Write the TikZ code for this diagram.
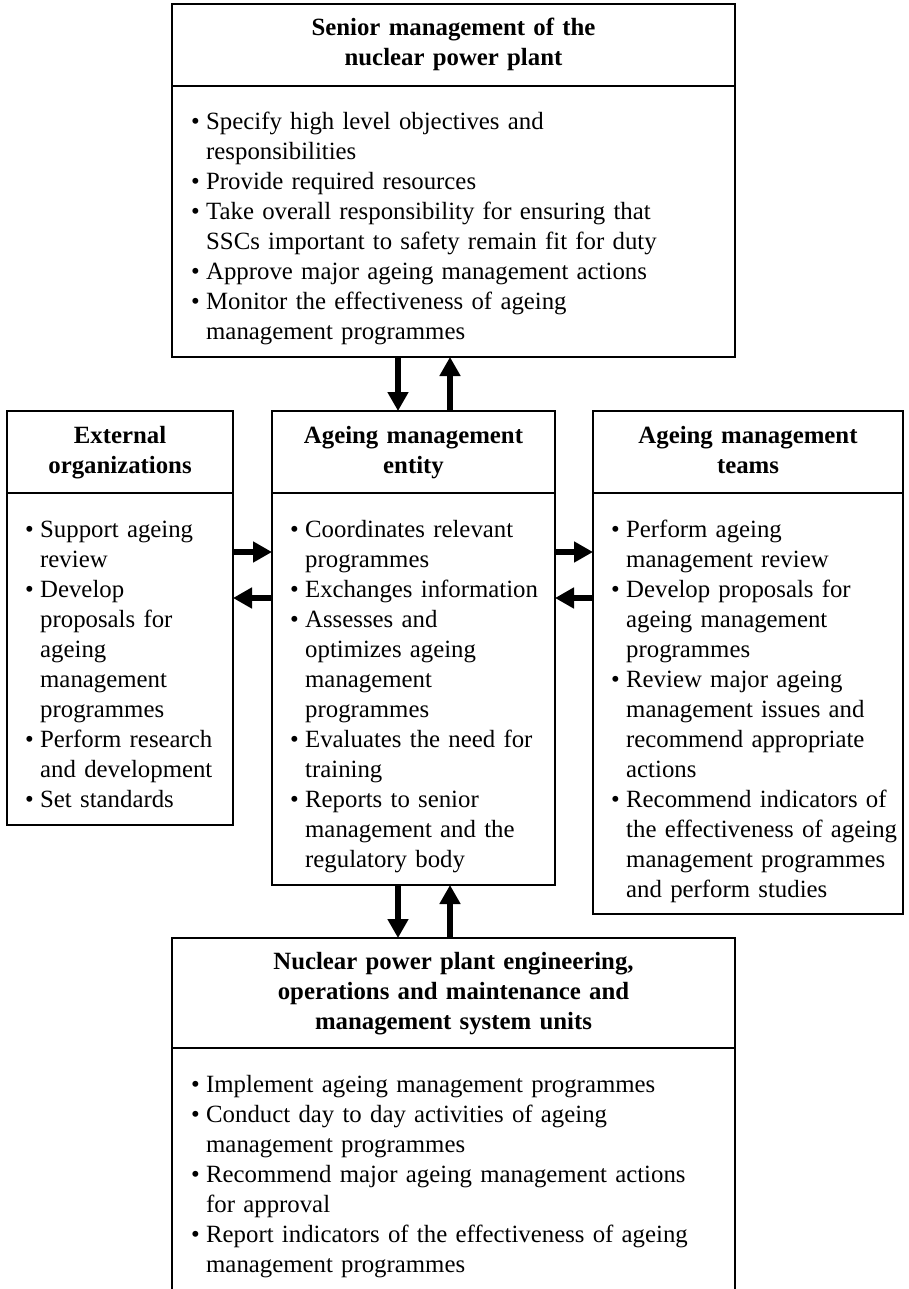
\documentclass[tikz,border=0pt]{standalone}
\usepackage{fontspec}
\setmainfont{Liberation Serif}
\usetikzlibrary{arrows.meta}
\newcommand{\BL}{\makebox[15pt][l]{\textbullet}}
\newcommand{\CL}{\hspace*{15pt}}
\begin{document}
\begin{tikzpicture}[x=1pt,y=-1pt,
  box/.style={draw, line width=1.1pt, inner sep=0pt, outer sep=0pt, anchor=north west},
  body/.style={inner sep=0pt, anchor=base west, align=left, font=\fontsize{24.8}{30}\selectfont},
  title/.style={inner sep=0pt, anchor=base, align=center, font=\bfseries\fontsize{24.8}{30}\selectfont},
  bigarrow/.style={line width=6.5pt, -{Triangle[width=20pt,length=19pt]}},
  divider/.style={line width=1.1pt}]
\useasboundingbox (0,0) rectangle (909,1289);

% boxes
\node[box, minimum width=563pt, minimum height=353pt] (tbox) at (172,4) {};
\node[box, minimum width=226pt, minimum height=414pt] (lbox) at (7,411) {};
\node[box, minimum width=283pt, minimum height=474pt] (mbox) at (272,411) {};
\node[box, minimum width=310pt, minimum height=503pt] (rbox) at (593,411) {};
\node[box, minimum width=563pt, minimum height=353pt] (bbox) at (172,938) {};

% dividers
\coordinate (dt) at (0,86);
\coordinate (dm) at (0,493);
\coordinate (db) at (0,1048);
\draw[divider] (tbox.west |- dt) -- (tbox.east |- dt);
\draw[divider] (lbox.west |- dm) -- (lbox.east |- dm);
\draw[divider] (mbox.west |- dm) -- (mbox.east |- dm);
\draw[divider] (rbox.west |- dm) -- (rbox.east |- dm);
\draw[divider] (bbox.west |- db) -- (bbox.east |- db);

% titles
\node[title, text width=550pt] (ttitle) at (453.5,36) {Senior management of the\\nuclear power plant};
\node[title, text width=220pt] (ltitle) at (120,443) {External\\organizations};
\node[title, text width=275pt] (mtitle) at (413.5,443) {Ageing management\\entity};
\node[title, text width=300pt] (rtitle) at (748,443) {Ageing management\\teams};
\node[title, text width=550pt] (btitle) at (453.5,969) {Nuclear power plant engineering,\\operations and maintenance and\\management system units};

% bodies
\node[body, text width=540pt] (tbody) at (191,130) {%
\BL Specify high level objectives and\\
\CL responsibilities\\
\BL Provide required resources\\
\BL Take overall responsibility for ensuring that\\
\CL SSCs important to safety remain fit for duty\\
\BL Approve major ageing management actions\\
\BL Monitor the effectiveness of ageing\\
\CL management programmes};

\node[body, text width=215pt] (lbody) at (25,537) {%
\BL Support ageing\\
\CL review\\
\BL Develop\\
\CL proposals for\\
\CL ageing\\
\CL management\\
\CL programmes\\
\BL Perform research\\
\CL and development\\
\BL Set standards};

\node[body, text width=270pt] (mbody) at (290,537) {%
\BL Coordinates relevant\\
\CL programmes\\
\BL Exchanges information\\
\BL Assesses and\\
\CL optimizes ageing\\
\CL management\\
\CL programmes\\
\BL Evaluates the need for\\
\CL training\\
\BL Reports to senior\\
\CL management and the\\
\CL regulatory body};

\node[body, text width=300pt] (rbody) at (611,537) {%
\BL Perform ageing\\
\CL management review\\
\BL Develop proposals for\\
\CL ageing management\\
\CL programmes\\
\BL Review major ageing\\
\CL management issues and\\
\CL recommend appropriate\\
\CL actions\\
\BL Recommend indicators of\\
\CL the effectiveness of ageing\\
\CL management programmes\\
\CL and perform studies};

\node[body, text width=540pt] (bbody) at (191,1092) {%
\BL Implement ageing management programmes\\
\BL Conduct day to day activities of ageing\\
\CL management programmes\\
\BL Recommend major ageing management actions\\
\CL for approval\\
\BL Report indicators of the effectiveness of ageing\\
\CL management programmes};

% arrows
\coordinate (xd) at (398,0);
\coordinate (xu) at (450,0);
\coordinate (ya) at (0,552);
\coordinate (yb) at (0,598);
\draw[bigarrow] (tbox.south -| xd) -- (mbox.north -| xd);
\draw[bigarrow] (mbox.north -| xu) -- (tbox.south -| xu);
\draw[bigarrow] (mbox.south -| xd) -- (bbox.north -| xd);
\draw[bigarrow] (bbox.north -| xu) -- (mbox.south -| xu);
\draw[bigarrow] (lbox.east |- ya) -- (mbox.west |- ya);
\draw[bigarrow] (mbox.west |- yb) -- (lbox.east |- yb);
\draw[bigarrow] (mbox.east |- ya) -- (rbox.west |- ya);
\draw[bigarrow] (rbox.west |- yb) -- (mbox.east |- yb);
\end{tikzpicture}
\end{document}
